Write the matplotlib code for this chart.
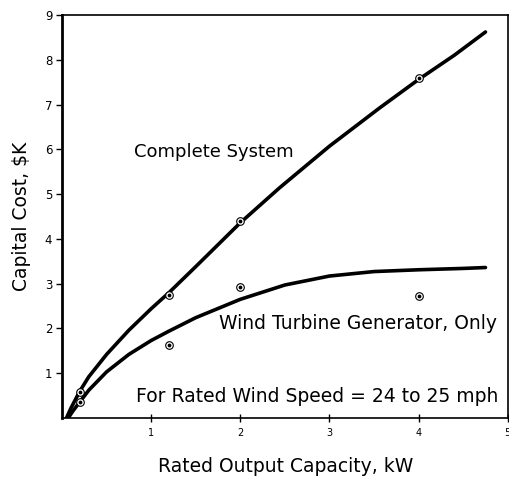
import matplotlib
matplotlib.use("Agg")
import matplotlib.pyplot as plt

# Curves
complete_x = [0.05, 0.1, 0.2, 0.3, 0.5, 0.75, 1.0, 1.2, 1.5, 2.0, 2.44, 3.0, 3.56, 4.0, 4.4, 4.75]
complete_y = [0.0, 0.22, 0.6, 0.92, 1.42, 1.96, 2.44, 2.8, 3.38, 4.36, 5.14, 6.07, 6.92, 7.56, 8.1, 8.62]
wtg_x = [0.07, 0.12, 0.2, 0.3, 0.5, 0.75, 1.0, 1.2, 1.5, 2.0, 2.5, 3.0, 3.5, 4.0, 4.5, 4.75]
wtg_y = [0.0, 0.15, 0.36, 0.62, 1.03, 1.42, 1.73, 1.94, 2.24, 2.65, 2.97, 3.17, 3.27, 3.31, 3.34, 3.36]

# Data points
complete_pts_x = [0.2, 1.2, 2.0, 4.0]
complete_pts_y = [0.58, 2.75, 4.4, 7.6]
wtg_pts_x = [0.2, 1.2, 2.0, 4.0]
wtg_pts_y = [0.36, 1.62, 2.92, 2.72]

xticks = [1, 2, 3, 4, 5]
yticks = [1, 2, 3, 4, 5, 6, 7, 8, 9]

fig = plt.figure(figsize=(5.10, 4.83), dpi=100)
ax = fig.add_axes([0.1216, 0.1346, 0.874, 0.8344])

ax.plot(complete_x, complete_y, color="black", lw=2.6, solid_capstyle="round", solid_joinstyle="round")
ax.plot(wtg_x, wtg_y, color="black", lw=2.6, solid_capstyle="round", solid_joinstyle="round")

for px, py in [(complete_pts_x, complete_pts_y), (wtg_pts_x, wtg_pts_y)]:
    ax.scatter(px, py, s=30, facecolor="white", edgecolor="black", linewidths=0.8, zorder=3)
    ax.scatter(px, py, s=3, color="black", zorder=4)

ax.set_xlim(0, 5)
ax.set_ylim(0, 9)
ax.set_xticks(xticks)
ax.set_yticks(yticks)
ax.set_xticklabels([str(t) for t in xticks], fontsize=7)
ax.set_yticklabels([str(t) for t in yticks], fontsize=8.5)
ax.tick_params(axis="x", direction="inout", length=6, width=1, pad=4)
ax.tick_params(axis="y", direction="out", length=4, width=1, pad=3)
for s in ax.spines.values():
    s.set_linewidth(1.2)
ax.spines["left"].set_linewidth(2)

ax.text(1.7, 5.94, "Complete System", fontsize=13, ha="center", va="center")
ax.text(3.32, 2.12, "Wind Turbine Generator, Only", fontsize=13.5, ha="center", va="center")
ax.text(2.86, 0.49, "For Rated Wind Speed = 24 to 25 mph", fontsize=13.5, ha="center", va="center")

fig.text(0.043, 0.553, "Capital Cost, $K", rotation=90, fontsize=13.5, ha="center", va="center")
fig.text(0.561, 0.035, "Rated Output Capacity, kW", fontsize=13.5, ha="center", va="center")

fig.savefig("out.png", dpi=100)
